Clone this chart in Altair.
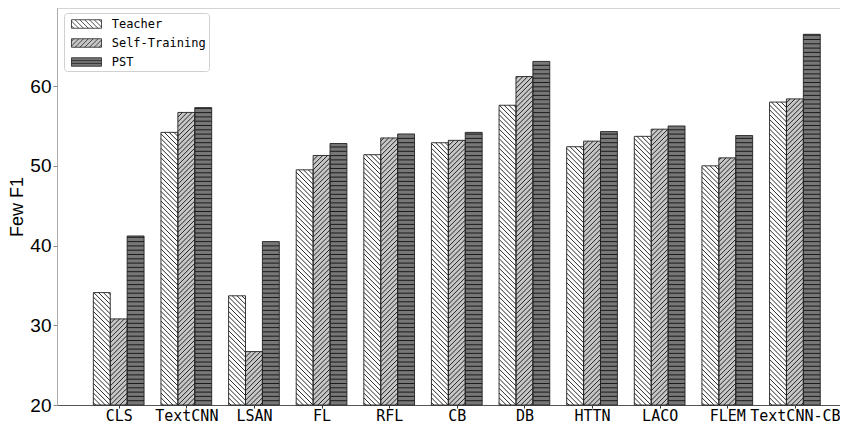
import json
import altair as alt
import pandas as pd

# ---------------- data ----------------
categories = ["CLS", "TextCNN", "LSAN", "FL", "RFL", "CB", "DB", "HTTN", "LACO", "FLEM", "TextCNN-CB"]
series_names = ["Teacher", "Self-Training", "PST"]
teacher = [34.1, 54.2, 33.7, 49.5, 51.4, 52.9, 57.6, 52.4, 53.7, 50.0, 58.0]
self_training = [30.8, 56.7, 26.7, 51.3, 53.5, 53.2, 61.2, 53.1, 54.6, 51.0, 58.4]
pst = [41.2, 57.3, 40.5, 52.8, 54.0, 54.2, 63.1, 54.3, 55.0, 53.8, 66.5]
y_ticks = [20, 30, 40, 50, 60]

# ---------------- style ----------------
fills = ["#ffffff", "#c6c6c6", "#777777"]
edge_colors = ["#222222", "#222222", "#222222"]
hatch_kind = ["back", "fwd", "horiz"]
hatch_step = {"back": 4.8, "fwd": 4.8, "horiz": 4.3}

W, H = 783, 397
X_MIN = -0.9125
X_MAX = X_MIN + W / 67.62
Y_MIN, Y_MAX = 20.0, 69.8
BAR_W = 0.25
SX = W / (X_MAX - X_MIN)
SY = H / (Y_MAX - Y_MIN)


def hatch_segments(w, h, kind, step):
    """Segments in a local frame: u to the right (0..w), t upwards (0..h)."""
    segs = []
    if kind == "horiz":
        k = step
        while k < h - 0.5:
            segs.append((0.0, k, w, k))
            k += step
    elif kind == "back":  # '\' on screen : t + u = k
        k = step / 2
        while k < w + h:
            u0, u1 = max(0.0, k - h), min(w, k)
            if u1 > u0:
                segs.append((u0, k - u0, u1, k - u1))
            k += step
    else:  # '/' on screen : t = u + k
        k = -w + step / 2
        while k < h:
            u0, u1 = max(0.0, -k), min(w, h - k)
            if u1 > u0:
                segs.append((u0, u0 + k, u1, u1 + k))
            k += step
    return segs


rows, hatch_rows = [], []
for i, cat in enumerate(categories):
    for j, (name, vals) in enumerate(zip(series_names, [teacher, self_training, pst])):
        c = i + (j - 1) * BAR_W
        left, right = c - BAR_W / 2, c + BAR_W / 2
        rows.append({"category": cat, "series": name, "value": vals[i],
                     "left": left, "right": right, "base": Y_MIN})
        wpx = BAR_W * SX
        hpx = (vals[i] - Y_MIN) * SY
        kind = hatch_kind[j]
        for (u0, t0, u1, t1) in hatch_segments(wpx, hpx, kind, hatch_step[kind]):
            hatch_rows.append({"hx": left + u0 / SX, "hx2": left + u1 / SX,
                               "hy": Y_MIN + t0 / SY, "hy2": Y_MIN + t1 / SY})
bars_df = pd.DataFrame(rows)
hatch_df = pd.DataFrame(hatch_rows)

# legend swatch shapes (rectangle + hatch) as SVG paths: 30 x 8.5 px at symbolSize 225
SW_R = 7.5  # sqrt(225) / 2


def swatch_path(kind):
    w, h = 30.0, 8.5
    hw, hh = (w / 2) / SW_R, (h / 2) / SW_R
    p = "M{0:.3f},{1:.3f}H{2:.3f}V{3:.3f}H{0:.3f}Z".format(-hw, -hh, hw, hh)
    step = {"back": 4.8, "fwd": 4.8, "horiz": 2.83}[kind]
    for (u0, t0, u1, t1) in hatch_segments(w, h, kind, step):
        p += " M{:.3f},{:.3f}L{:.3f},{:.3f}".format((u0 - w / 2) / SW_R, (h / 2 - t0) / SW_R,
                                                  (u1 - w / 2) / SW_R, (h / 2 - t1) / SW_R)
    return p


swatches = [swatch_path(k) for k in hatch_kind]

label_expr = json.dumps(categories) + "[round(datum.value)]"

x_scale = alt.Scale(domain=[X_MIN, X_MAX], nice=False, zero=False)
y_scale = alt.Scale(domain=[Y_MIN, Y_MAX], nice=False, zero=False)

x_axis = alt.Axis(values=list(range(len(categories))), labelExpr=label_expr, title=None,
                  grid=False, labelFont="DejaVu Sans Mono", labelFontSize=15,
                  labelColor="black", labelPadding=0, tickSize=3, tickColor="#333",
                  domainColor="#555", labelFlush=False, labelOverlap=False)
y_axis = alt.Axis(values=y_ticks, title="Few F1", grid=False, labelFont="Liberation Sans",
                  labelFontSize=19, labelColor="black", labelPadding=2, tickSize=4,
                  tickColor="#888", domainColor="#aaa", titleFont="Liberation Sans",
                  titleFontSize=18, titleFontWeight="normal", titleColor="black",
                  titlePadding=3)

legend = alt.Legend(title=None, orient="none", legendX=7, legendY=5, symbolSize=225,
                    symbolOffset=11.5, labelFont="DejaVu Sans Mono", labelFontSize=12,
                    labelColor="black", labelOffset=17.2, padding=3, rowPadding=5,
                    strokeColor="#d0d0d0", fillColor="white", cornerRadius=3,
                    symbolStrokeColor="#222", symbolStrokeWidth=0.8, symbolOpacity=1)

color_enc = alt.Color("series:N", scale=alt.Scale(domain=series_names, range=fills),
                      legend=legend)

bars = alt.Chart(bars_df).mark_rect(strokeWidth=0).encode(
    x=alt.X("left:Q", scale=x_scale, axis=x_axis),
    x2="right:Q",
    y=alt.Y("value:Q", scale=y_scale, axis=y_axis),
    y2="base:Q",
    color=color_enc,
)

hatch = alt.Chart(hatch_df).mark_rule(color="#111", strokeWidth=0.9).encode(
    x=alt.X("hx:Q", scale=x_scale, axis=x_axis),
    x2="hx2:Q",
    y=alt.Y("hy:Q", scale=y_scale, axis=y_axis),
    y2="hy2:Q",
)

outline = alt.Chart(bars_df).mark_rect(fill=None, filled=False, stroke="#222",
                                       strokeWidth=0.9).encode(
    x=alt.X("left:Q", scale=x_scale, axis=x_axis),
    x2="right:Q",
    y=alt.Y("value:Q", scale=y_scale, axis=y_axis),
    y2="base:Q",
)

legend_layer = alt.Chart(bars_df).transform_filter("datum.series == 'none'").mark_point(
    filled=True, opacity=1, strokeWidth=0.8).encode(
    color=color_enc,
    stroke=alt.Stroke("series:N", scale=alt.Scale(domain=series_names, range=edge_colors),
                      legend=legend),
    shape=alt.Shape("series:N", scale=alt.Scale(domain=series_names, range=swatches),
                    legend=legend),
)

top_spine = alt.Chart(pd.DataFrame({"top": [Y_MAX]})).mark_rule(
    color="#aaa", strokeWidth=1).encode(
    y=alt.Y("top:Q", scale=y_scale, axis=y_axis),
)

chart = alt.layer(bars, hatch, outline, top_spine, legend_layer).properties(
    width=W, height=H,
    autosize=alt.AutoSizeParams(type="none"),
    padding={"left": 49, "top": 0, "right": 0, "bottom": 20},
).configure_view(stroke="transparent", strokeWidth=0)

chart.save("out.html", embed_options={"renderer": "svg", "actions": False})
